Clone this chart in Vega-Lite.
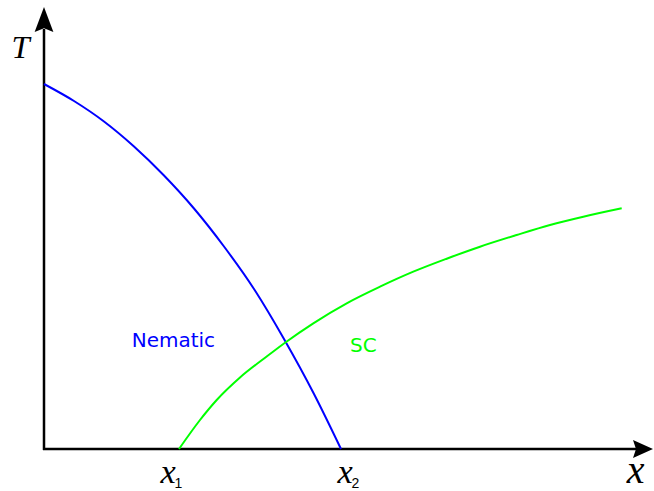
{
  "$schema": "https://vega.github.io/schema/vega-lite/v6.json",
  "width": 654,
  "height": 491,
  "padding": 0,
  "autosize": {"type": "none"},
  "background": "white",
  "config": {"view": {"stroke": null}},
  "datasets": {
    "curves": [
      {"series": "Nematic", "x": 0, "y": 365},
      {"series": "Nematic", "x": 30, "y": 348},
      {"series": "Nematic", "x": 60, "y": 327.5},
      {"series": "Nematic", "x": 90, "y": 302.5},
      {"series": "Nematic", "x": 120, "y": 273.5},
      {"series": "Nematic", "x": 150, "y": 240.5},
      {"series": "Nematic", "x": 180, "y": 202.5},
      {"series": "Nematic", "x": 210, "y": 160},
      {"series": "Nematic", "x": 240, "y": 110},
      {"series": "Nematic", "x": 270, "y": 55},
      {"series": "Nematic", "x": 297, "y": 0},
      {"series": "SC", "x": 135, "y": 0},
      {"series": "SC", "x": 156, "y": 29},
      {"series": "SC", "x": 172.7, "y": 49},
      {"series": "SC", "x": 196, "y": 71.5},
      {"series": "SC", "x": 222.7, "y": 92.5},
      {"series": "SC", "x": 241, "y": 106.3},
      {"series": "SC", "x": 269.3, "y": 125.7},
      {"series": "SC", "x": 302.7, "y": 145.7},
      {"series": "SC", "x": 336, "y": 162.3},
      {"series": "SC", "x": 369.3, "y": 177.3},
      {"series": "SC", "x": 402.7, "y": 190.3},
      {"series": "SC", "x": 436, "y": 202.3},
      {"series": "SC", "x": 472.7, "y": 214},
      {"series": "SC", "x": 506, "y": 224},
      {"series": "SC", "x": 539.3, "y": 232.3},
      {"series": "SC", "x": 577.7, "y": 240.7}
    ]
  },
  "layer": [
    {
      "data": {"values": [{"x": -1, "x2": 600, "y": 0}]},
      "mark": {"type": "rule", "color": "black", "strokeWidth": 2.5},
      "encoding": {
        "x": {"field": "x", "type": "quantitative", "scale": {"domain": [-44, 610], "nice": false, "zero": false}, "axis": null},
        "x2": {"field": "x2"},
        "y": {"field": "y", "type": "quantitative", "scale": {"domain": [-42, 449], "nice": false, "zero": false}, "axis": null}
      }
    },
    {
      "data": {"values": [{"x": 0, "y": -1, "y2": 420}]},
      "mark": {"type": "rule", "color": "black", "strokeWidth": 2.5},
      "encoding": {
        "x": {"field": "x", "type": "quantitative"},
        "y": {"field": "y", "type": "quantitative"},
        "y2": {"field": "y2"}
      }
    },
    {
      "data": {"values": [{"x": 599, "y": 0}]},
      "mark": {"type": "point", "filled": true, "color": "black", "opacity": 1, "size": 400, "strokeWidth": 0, "shape": "M1,0L-1,-0.9L-0.7,0L-1,0.9Z"},
      "encoding": {
        "x": {"field": "x", "type": "quantitative"},
        "y": {"field": "y", "type": "quantitative"}
      }
    },
    {
      "data": {"values": [{"x": 0, "y": 429.5}]},
      "mark": {"type": "point", "filled": true, "color": "black", "opacity": 1, "size": 625, "strokeWidth": 0, "shape": "M0,-1L0.75,1L0,0.7L-0.75,1Z"},
      "encoding": {
        "x": {"field": "x", "type": "quantitative"},
        "y": {"field": "y", "type": "quantitative"}
      }
    },
    {
      "data": {"name": "curves"},
      "mark": {"type": "line", "interpolate": "monotone", "strokeWidth": 2},
      "encoding": {
        "x": {"field": "x", "type": "quantitative"},
        "y": {"field": "y", "type": "quantitative"},
        "color": {"field": "series", "type": "nominal", "scale": {"domain": ["Nematic", "SC"], "range": ["#0000ff", "#00ff00"]}, "legend": null},
        "detail": {"field": "series"}
      }
    },
    {
      "data": {"values": [
        {"text": "Nematic", "x": 87.7, "y": 102, "c": "Nematic"},
        {"text": "SC", "x": 306, "y": 97, "c": "SC"}
      ]},
      "mark": {"type": "text", "font": "DejaVu Sans", "fontSize": 20, "align": "left", "baseline": "alphabetic"},
      "encoding": {
        "x": {"field": "x", "type": "quantitative"},
        "y": {"field": "y", "type": "quantitative"},
        "text": {"field": "text"},
        "color": {"field": "c", "type": "nominal", "legend": null}
      }
    },
    {
      "data": {"values": [
        {"text": "T", "x": -23.5, "y": 391, "s": 26},
        {"text": "x", "x": 591.5, "y": -34, "s": 34},
        {"text": "x", "x": 124, "y": -34, "s": 28},
        {"text": "x", "x": 301, "y": -34, "s": 28}
      ]},
      "mark": {"type": "text", "font": "Liberation Serif", "fontStyle": "italic", "color": "black", "align": "center", "baseline": "alphabetic"},
      "encoding": {
        "x": {"field": "x", "type": "quantitative"},
        "y": {"field": "y", "type": "quantitative"},
        "text": {"field": "text"},
        "size": {"field": "s", "type": "quantitative", "scale": {"type": "identity"}, "legend": null}
      }
    },
    {
      "data": {"values": [
        {"text": "1", "x": 134.5, "y": -39},
        {"text": "2", "x": 311.5, "y": -39}
      ]},
      "mark": {"type": "text", "font": "Liberation Sans", "fontSize": 14, "color": "black", "align": "center", "baseline": "alphabetic"},
      "encoding": {
        "x": {"field": "x", "type": "quantitative"},
        "y": {"field": "y", "type": "quantitative"},
        "text": {"field": "text"}
      }
    }
  ]
}
